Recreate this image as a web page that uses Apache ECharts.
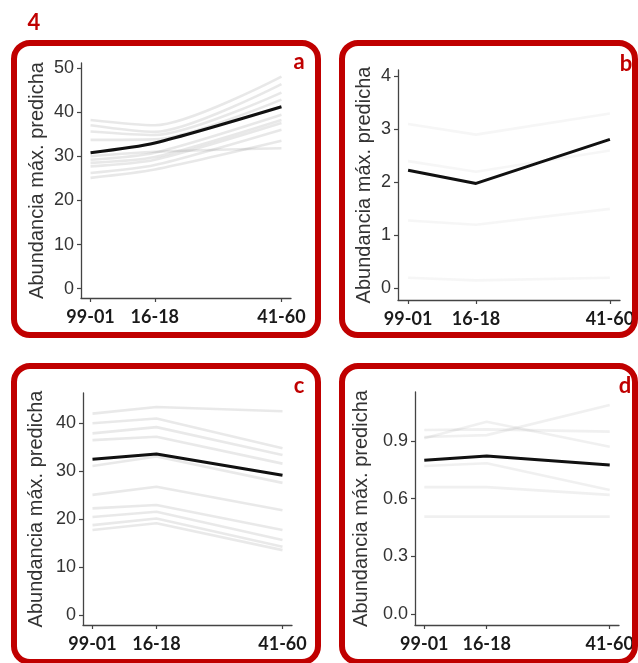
<!DOCTYPE html>
<html>
<head>
<meta charset="utf-8">
<script src="https://cdn.jsdelivr.net/npm/echarts@6/dist/echarts.min.js"></script>
<style>
html,body{margin:0;padding:0;background:#fff;}
#chart{width:638px;height:663px;}
</style>
</head>
<body>
<div id="chart"></div>
<script>
// ---- data ----
const xLabels = ['99-01', '16-18', '41-60'];
const xYears = [2000, 2017, 2050.5];
const panelLetters = ['a', 'b', 'c', 'd'];
const figureNumber = '4';
const yTitle = 'Abundancia máx. predicha';

const yTicksA = [0, 10, 20, 30, 40, 50];
const yTicksB = [0, 1, 2, 3, 4];
const yTicksC = [0, 10, 20, 30, 40];
const yTicksD = [0, 0.3, 0.6, 0.9];

const meanA = [30.8, 33.0, 41.2];
const meanB = [2.23, 1.98, 2.81];
const meanC = [32.4, 33.5, 29.1];
const meanD = [0.800, 0.822, 0.775];

const othersA = [
  [38.2, 37.0, 48.0],
  [37.0, 35.5, 46.3],
  [35.6, 34.8, 44.4],
  [33.7, 33.8, 42.8],
  [29.2, 30.8, 39.4],
  [28.5, 29.8, 38.2],
  [27.7, 29.2, 37.5],
  [26.2, 28.0, 36.0],
  [25.1, 27.0, 33.5],
  [30.0, 31.0, 31.8]
];
const othersB = [
  [3.1, 2.9, 3.3],
  [2.4, 2.2, 2.6],
  [1.28, 1.2, 1.5],
  [0.2, 0.15, 0.2]
];
const othersC = [
  [41.9, 43.3, 42.4],
  [39.9, 40.9, 34.7],
  [37.8, 39.1, 33.3],
  [36.4, 37.1, 31.5],
  [31.0, 33.0, 27.5],
  [25.0, 26.7, 21.8],
  [22.2, 22.9, 17.7],
  [20.4, 21.5, 15.6],
  [18.7, 20.1, 14.2],
  [17.7, 19.1, 13.5]
];
const othersD = [
  [0.957, 0.960, 0.948],
  [0.914, 1.000, 0.870],
  [0.920, 0.930, 1.087],
  [0.770, 0.784, 0.645],
  [0.660, 0.660, 0.620],
  [0.507, 0.507, 0.507]
];

// ---- layout / style ----
const RED = '#c00000';
const panels = [
  {grid:{left:81, top:63, width:210, height:235}, yMin:-2.1, yMax:51.1, ticks:yTicksA, mean:meanA, others:othersA, gap:34, dec:0, smooth:0.25, alpha:0.16},
  {grid:{left:398, top:70, width:222, height:230}, yMin:-0.22, yMax:4.12, ticks:yTicksB, mean:meanB, others:othersB, gap:24, dec:0, smooth:false, alpha:0.06},
  {grid:{left:83, top:393, width:209, height:232}, yMin:-2.08, yMax:46.2, ticks:yTicksC, mean:meanC, others:othersC, gap:37, dec:0, smooth:false, alpha:0.15},
  {grid:{left:415, top:392, width:204, height:233}, yMin:-0.056, yMax:1.154, ticks:yTicksD, mean:meanD, others:othersD, gap:44, dec:1, smooth:false, alpha:0.1}
];
const xPad = (xYears[2] - xYears[0]) * 0.05;

const grids = [], xAxes = [], yAxes = [], series = [];
panels.forEach((p, i) => {
  grids.push(Object.assign({containLabel:false}, p.grid));
  xAxes.push({
    type:'value', gridIndex:i,
    min: xYears[0] - xPad, max: xYears[2] + xPad,
    axisLine:{show:true, onZero:false, lineStyle:{color:'#444', width:1.3}},
    axisTick:{show:true, customValues:xYears, length:4, lineStyle:{color:'#444', width:1.2}},
    axisLabel:{
      customValues:xYears, margin:10,
      formatter:(v) => { const k = xYears.indexOf(v); return k >= 0 ? xLabels[k] : ''; },
      fontFamily:'Lato', fontWeight:'bold', fontSize:18, color:'#1a1a1a'
    },
    splitLine:{show:false}
  });
  yAxes.push({
    type:'value', gridIndex:i, min:p.yMin, max:p.yMax,
    name:yTitle, nameLocation:'middle', nameGap:p.gap,
    nameTextStyle:{fontFamily:'Liberation Sans', fontSize:20, color:'#333'},
    axisLine:{show:true, onZero:false, lineStyle:{color:'#444', width:1.3}},
    axisTick:{show:true, customValues:p.ticks, length:4, lineStyle:{color:'#444', width:1.2}},
    axisLabel:{
      customValues:p.ticks, margin:7,
      formatter:(v) => v.toFixed(p.dec),
      fontFamily:'Liberation Sans', fontSize:18, color:'#333'
    },
    splitLine:{show:false}
  });
  p.others.forEach(vals => {
    series.push({
      type:'line', xAxisIndex:i, yAxisIndex:i, silent:true, symbol:'none', smooth:p.smooth,
      data: vals.map((v, k) => [xYears[k], v]),
      lineStyle:{color:'rgba(110,110,110,' + p.alpha + ')', width:2.6}, z:1
    });
  });
  series.push({
    type:'line', xAxisIndex:i, yAxisIndex:i, silent:true, symbol:'none', smooth:p.smooth,
    data: p.mean.map((v, k) => [xYears[k], v]),
    lineStyle:{color:'#111', width:3}, z:3
  });
});

const boxes = [
  {x:14, y:43, w:304, h:292},
  {x:342, y:43, w:293, h:292},
  {x:14, y:366, w:304, h:296},
  {x:342, y:366, w:293, h:296}
];
const letterPos = [[299, 62], [626, 64], [299, 386], [625, 386]];
const graphics = [];
boxes.forEach((b, i) => {
  graphics.push({type:'rect', shape:{x:b.x, y:b.y, width:b.w, height:b.h, r:16},
    style:{fill:'none', stroke:RED, lineWidth:6}, z:10, silent:true});
  graphics.push({type:'text', x:letterPos[i][0], y:letterPos[i][1],
    style:{text:panelLetters[i], fill:RED, font:'bold 22px Lato', align:'center', verticalAlign:'middle'}, z:11});
});
graphics.push({type:'text', x:34, y:23,
  style:{text:figureNumber, fill:RED, font:'bold 22px Lato', align:'center', verticalAlign:'middle'}, z:11});

const chart = echarts.init(document.getElementById('chart'), null, {renderer:'canvas'});
chart.setOption({
  animation:false,
  backgroundColor:'#fff',
  grid:grids, xAxis:xAxes, yAxis:yAxes, series:series,
  graphic:graphics
});
</script>
</body>
</html>
